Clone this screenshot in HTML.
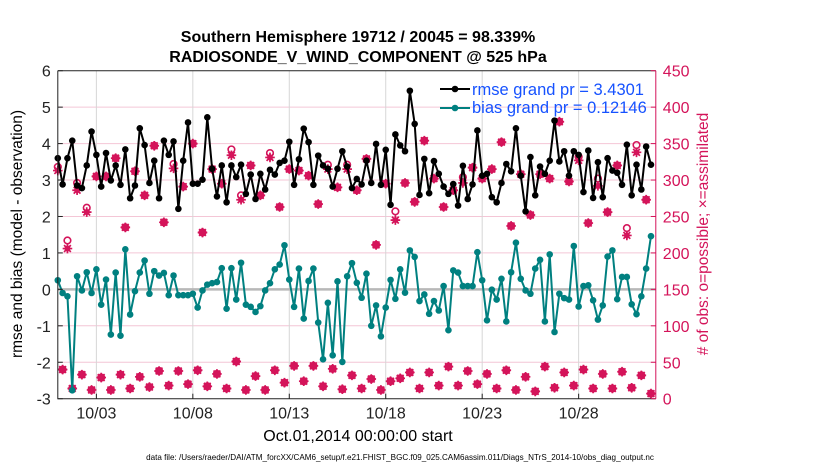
<!DOCTYPE html>
<html><head><meta charset="utf-8">
<style>
html,body{margin:0;padding:0;background:#fff;}
svg{display:block;font-family:"Liberation Sans",Arial,sans-serif;}
</style></head>
<body>
<svg id="chart" width="830" height="470" viewBox="0 0 830 470" xmlns="http://www.w3.org/2000/svg">
  <rect width="830" height="470" fill="#fff"/>
  <text x="358" y="42" text-anchor="middle" font-size="16" font-weight="bold">Southern Hemisphere 19712 / 20045 = 98.339%</text>
  <text x="358" y="62" text-anchor="middle" font-size="16" font-weight="bold">RADIOSONDE_V_WIND_COMPONENT @ 525 hPa</text>
  <g id="grid"></g>
  <g id="marks"></g>
  <g id="axes"></g>
  <g id="legend">
    <line x1="440" y1="89" x2="470" y2="89" stroke="#000" stroke-width="2"/>
    <circle cx="455" cy="89" r="3.3" fill="#000"/>
    <text x="472" y="95" font-size="16.5" fill="#1652ff">rmse grand pr = 3.4301</text>
    <line x1="440" y1="108" x2="470" y2="108" stroke="#008080" stroke-width="2"/>
    <circle cx="455" cy="108" r="3.3" fill="#008080"/>
    <text x="472" y="113" font-size="16.5" fill="#1652ff">bias grand pr = 0.12146</text>
  </g>
  <text x="358" y="441" text-anchor="middle" font-size="16">Oct.01,2014 00:00:00 start</text>
  <text transform="translate(22,234) rotate(-90)" text-anchor="middle" font-size="15.5">rmse and bias (model - observation)</text>
  <text transform="translate(708,234) rotate(-90)" text-anchor="middle" font-size="15.5" fill="#d4145a"># of obs: o=possible; ×=assimilated</text>
  <text x="400" y="460" text-anchor="middle" font-size="8.1">data file: /Users/raeder/DAI/ATM_forcXX/CAM6_setup/f.e21.FHIST_BGC.f09_025.CAM6assim.011/Diags_NTrS_2014-10/obs_diag_output.nc</text>
</svg>
<script>
const rmse = [3.60,2.88,3.60,4.08,2.85,2.78,3.40,4.33,3.69,2.82,3.74,2.99,3.40,2.87,3.84,2.50,2.85,4.42,3.96,2.92,3.53,2.50,4.08,3.69,4.06,2.21,3.53,4.58,2.90,2.90,3.01,4.72,3.31,2.55,3.40,2.39,3.40,3.08,3.42,2.62,3.15,2.48,3.17,2.74,3.28,3.15,3.47,3.53,4.05,2.87,3.57,4.41,4.04,2.87,3.67,3.40,3.31,2.82,3.31,3.79,3.37,2.78,3.03,2.88,3.53,2.92,3.99,2.87,3.83,2.32,4.25,3.95,3.79,5.45,4.54,2.59,3.58,2.64,3.52,3.17,2.82,2.62,2.89,2.30,3.39,2.48,2.88,4.36,3.12,3.17,2.53,2.39,2.92,3.44,3.24,4.42,3.12,2.14,3.63,2.58,3.37,3.17,3.53,4.63,3.51,3.79,3.12,3.79,3.69,2.67,3.81,2.51,3.49,2.53,3.60,3.26,3.20,2.87,3.97,2.58,3.42,2.74,3.92,3.42];
const bias = [0.25,-0.10,-0.19,-2.77,0.36,-0.03,0.47,-0.10,0.55,-0.42,0.27,-1.24,0.46,-1.27,1.10,-0.69,-0.05,0.46,0.79,-0.12,0.50,0.38,0.45,-0.16,0.38,-0.16,-0.16,-0.16,-0.12,-0.50,-0.03,0.13,0.17,0.20,0.58,-0.53,0.58,-0.28,0.73,-0.42,-0.48,-0.62,-0.46,-0.03,0.17,0.55,0.68,1.21,0.27,-0.48,0.57,-0.80,0.23,0.57,-0.91,-1.92,-0.37,-1.81,0.22,-1.99,0.36,0.72,0.18,-0.23,0.43,-1.00,-0.44,-1.29,-0.50,0.26,-0.26,0.55,-0.09,1.07,0.89,-0.32,-0.14,-0.67,-0.32,-0.58,0.09,-1.12,0.52,0.46,0.09,0.09,0.09,1.02,0.25,-0.85,-0.01,-0.28,0.29,-0.88,0.47,1.28,0.29,-0.03,-0.12,0.57,0.81,-0.88,0.96,-1.17,-0.12,-0.24,-0.28,1.19,-0.47,0.09,0.11,-0.30,-0.83,-0.44,0.90,1.07,-0.27,0.34,0.34,-0.41,-0.68,-0.19,0.57,1.46];
const obsUsed = [313,40,206,14,286,33,256,12,305,29,305,12,330,33,235,14,312,30,279,16,347,38,242,18,316,38,291,20,350,39,228,17,315,34,295,14,334,51,273,12,320,31,279,12,331,39,263,22,315,45,313,24,306,45,267,17,315,41,290,13,315,32,286,14,329,27,211,12,295,24,245,28,296,36,270,14,354,36,302,18,263,44,286,18,296,38,317,20,302,34,315,14,352,39,237,12,308,30,252,10,308,44,302,15,380,36,298,18,327,40,241,14,292,34,256,14,320,37,224,15,338,32,273,7];
const obsPossible = [318,40,217,14,296,33,262,12,305,29,305,12,330,33,235,14,312,30,279,16,347,38,242,18,322,38,291,20,350,39,228,17,315,34,295,14,342,51,279,12,320,31,279,12,337,39,263,22,315,45,313,24,306,45,267,17,321,41,290,13,321,32,286,14,329,27,211,12,295,24,257,28,296,36,270,14,354,36,302,18,263,44,286,18,304,38,317,20,302,34,315,14,352,39,237,12,308,30,252,10,308,44,302,15,380,36,298,18,332,40,241,14,302,34,256,14,320,37,234,15,348,32,273,7];
const leftTicks = [6,5,4,3,2,1,0,-1,-2,-3];
const rightTicks = [0,50,100,150,200,250,300,350,400,450];
const dateTickDays = [2,7,12,17,22,27];
const dateTickLabels = ["10/03","10/08","10/13","10/18","10/23","10/28"];

const NS = "http://www.w3.org/2000/svg";
const L = 57.8, R = 655.8, T = 70.7, B = 398.7;
const yMin = -3, yMax = 6, nMin = 0, nMax = 450, nDays = 31, perDay = 4;
function xDay(d){ return L + (d / nDays) * (R - L); }
function xIdx(i){ return xDay(i / perDay); }
function yL(v){ return B - (v - yMin) / (yMax - yMin) * (B - T); }
function yR(n){ return B - (n - nMin) / (nMax - nMin) * (B - T); }
function mk(tag, attrs, parent){
  const e = document.createElementNS(NS, tag);
  for (const k in attrs) e.setAttribute(k, attrs[k]);
  parent.appendChild(e); return e;
}
const grid = document.getElementById('grid');
const marks = document.getElementById('marks');
const axes = document.getElementById('axes');
const PINK = "#d4145a";

rightTicks.forEach(n => {
  if (n === 0 || n === 450) return;
  const g = mk('line', {x1:L, x2:R, y1:yR(n), y2:yR(n), stroke:'#f4c6d6', 'stroke-width':1}, grid);
  
  
});
dateTickDays.forEach(d => {
  const g = mk('line', {x1:xDay(d), x2:xDay(d), y1:T, y2:B, stroke:'#d6d6d6', 'stroke-width':1}, grid);
  
  
});
const zl = mk('line', {x1:L, x2:R, y1:yL(0), y2:yL(0), stroke:'#b8b8b8', 'stroke-width':2.5}, grid);



function star(cx, cy, parent){
  const g = mk('g', {stroke:PINK, 'stroke-width':1.7, fill:PINK}, parent);
  
  
  mk('path', {d:`M${cx-4.8},${cy}L${cx+4.8},${cy}M${cx},${cy-4.8}L${cx},${cy+4.8}M${cx-3.4},${cy-3.4}L${cx+3.4},${cy+3.4}M${cx-3.4},${cy+3.4}L${cx+3.4},${cy-3.4}`}, g);
  mk('path', {d:`M${cx},${cy-3.8}L${cx+3.8},${cy}L${cx},${cy+3.8}L${cx-3.8},${cy}Z`, stroke:'none'}, g);
}
obsPossible.forEach((n, i) => {
  const c = mk('circle', {cx:xIdx(i), cy:yR(n), r:3.3, fill:'none', stroke:PINK, 'stroke-width':1.6}, marks);
  
  
});
obsUsed.forEach((n, i) => star(xIdx(i), yR(n), marks));

function series(vals, color, name){
  const pts = vals.map((v, i) => `${xIdx(i).toFixed(2)},${yL(v).toFixed(2)}`).join(' ');
  const pl = mk('polyline', {points:pts, fill:'none', stroke:color, 'stroke-width':2, 'stroke-linejoin':'round'}, marks);
  
  
  vals.forEach((v, i) => {
    const c = mk('circle', {cx:xIdx(i), cy:yL(v), r:3.3, fill:color}, marks);
    
    
  });
}
series(bias, '#008080', 'bias');
series(rmse, '#000000', 'rmse');

const box = mk('path', {d:`M${L},${T}L${L},${B}L${R},${B}M${L},${T}L${R},${T}`, fill:'none', stroke:'#222', 'stroke-width':1}, axes);


const ra = mk('line', {x1:R, x2:R, y1:T, y2:B, stroke:PINK, 'stroke-width':1}, axes);



leftTicks.forEach(v => {
  mk('line', {x1:L, x2:L+5, y1:yL(v), y2:yL(v), stroke:'#222'}, axes);
  const t = mk('text', {x:L-7, y:yL(v)+6, 'text-anchor':'end', 'font-size':16, fill:'#222'}, axes);
  t.textContent = v;
  
  
});
rightTicks.forEach(n => {
  mk('line', {x1:R-5, x2:R, y1:yR(n), y2:yR(n), stroke:PINK}, axes);
  const t = mk('text', {x:R+7, y:yR(n)+6, 'font-size':16, fill:PINK}, axes);
  t.textContent = n;
  
  
});
dateTickDays.forEach((d, k) => {
  mk('line', {x1:xDay(d), x2:xDay(d), y1:B, y2:B-5, stroke:'#222'}, axes);
  const t = mk('text', {x:xDay(d), y:B+20, 'text-anchor':'middle', 'font-size':16, fill:'#222'}, axes);
  t.textContent = dateTickLabels[k];
  
  
});
</script>
</body></html>
